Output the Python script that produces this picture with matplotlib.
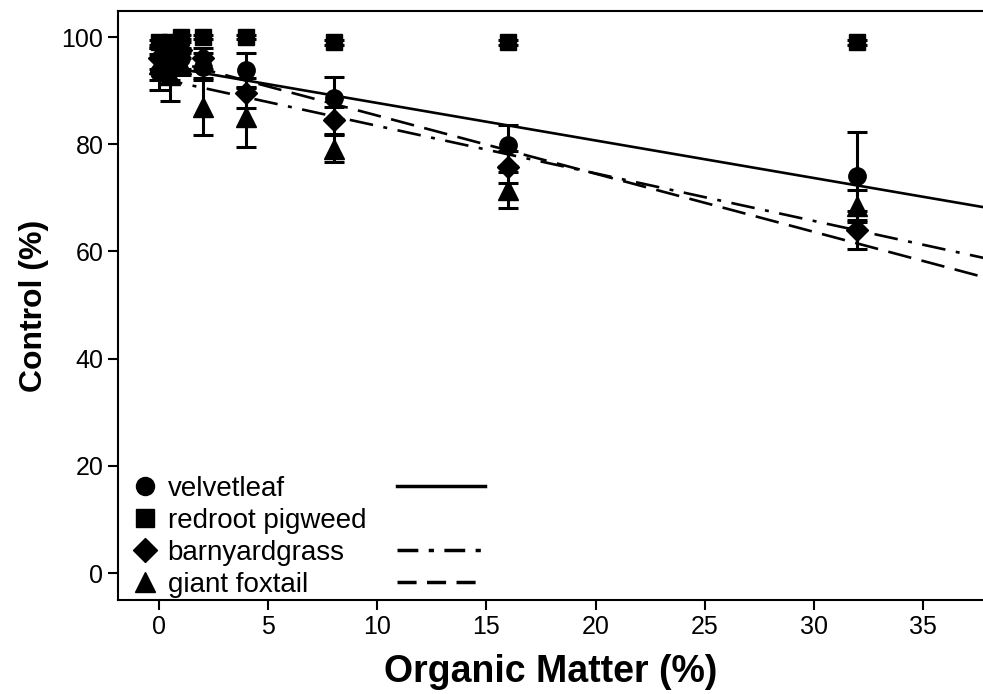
#Import Packages
import numpy as np
import matplotlib
matplotlib.use('Agg')
import matplotlib.pyplot as plt
from matplotlib.lines import Line2D

plt.rcParams['font.family'] = ['Liberation Sans', 'DejaVu Sans']

#Data
organic = [0, 0.5, 1, 2, 4, 8, 16, 32]
species = ['velvetleaf', 'redroot pigweed', 'barnyardgrass', 'giant foxtail']

velvetleaf = [93.5, 95, 96, 94.5, 93.8, 88.6, 79.8, 74]
velvetleaf_se = [3.4, 3, 2, 2.5, 3.2, 3.9, 3.8, 8.2]
pigweed = [99, 99, 100, 100, 100, 99, 99, 99]
pigweed_se = [0.5, 0.5, 0.3, 0.3, 0.3, 0.5, 0.5, 0.5]
barnyard = [96, 97, 97.5, 96, 89.5, 84.5, 75.7, 64]
barnyard_se = [2, 2, 1.5, 2, 2.8, 2.5, 3, 3.5]
foxtail = [95, 93, 95, 87, 85, 79.2, 71.5, 68.5]
foxtail_se = [3, 5, 2, 5.3, 5.5, 2.5, 3.4, 3]

#Regression lines (intercept, slope)
fit_velvetleaf = (94.7, -0.70)
fit_barnyard = (92.3, -0.887)
fit_foxtail = (96.2, -1.085)

#Plot
fig = plt.figure(figsize=(9.83, 6.94), dpi=100)
ax = fig.add_axes([0.120, 0.1354, 0.880, 0.8487])

xs = np.linspace(0, 38, 50)
ax.plot(xs, fit_velvetleaf[0] + fit_velvetleaf[1]*xs, color='k', lw=1.9, ls='-')
ax.plot(xs, fit_barnyard[0] + fit_barnyard[1]*xs, color='k', lw=1.9, ls=(0, (9, 4, 1.5, 4)))
ax.plot(xs, fit_foxtail[0] + fit_foxtail[1]*xs, color='k', lw=1.9, ls=(0, (9, 4)))

markers = ['o', 's', 'D', '^']
sizes = [12.5, 12, 11, 14]
series = [(velvetleaf, velvetleaf_se), (pigweed, pigweed_se),
          (barnyard, barnyard_se), (foxtail, foxtail_se)]
for (vals, se), m, s in zip(series, markers, sizes):
    ax.errorbar(organic, vals, yerr=se, fmt=m, ms=s, color='k', ecolor='k',
                elinewidth=2.2, capsize=7, capthick=2.2)

ax.set_xlim(-1.88, 37.75)
ax.set_ylim(-5.04, 104.85)
ax.set_xticks([0, 5, 10, 15, 20, 25, 30, 35])
ax.set_yticks([0, 20, 40, 60, 80, 100])
ax.tick_params(labelsize=18, length=7, width=1.5, direction='out')
ax.spines['right'].set_visible(False)
for sp in ['left', 'bottom', 'top']:
    ax.spines[sp].set_linewidth(1.5)

ax.set_xlabel('Organic Matter (%)', fontsize=27, fontweight='bold', labelpad=11)
ax.set_ylabel('Control (%)', fontsize=23, fontweight='bold', labelpad=9)

#Legend
mk_handles = [Line2D([], [], marker=m, ls='none', color='k', ms=s)
              for m, s in zip(markers, [13, 13, 12, 15])]
leg1 = ax.legend(mk_handles, species, loc='lower left', bbox_to_anchor=(0.014, 0.004),
                 frameon=False, fontsize=20, handlelength=1.05, handletextpad=0.3,
                 labelspacing=0.21, borderpad=0, borderaxespad=0)
ax.add_artist(leg1)
ln_handles = [Line2D([], [], color='k', lw=2.5, ls='-'),
              Line2D([], [], ls='none'),
              Line2D([], [], color='k', lw=2.5, ls=(0, (6, 3, 1.5, 3))),
              Line2D([], [], color='k', lw=2.5, ls=(0, (5.5, 3)))]
ax.legend(ln_handles, [' '] * 4, loc='lower left', bbox_to_anchor=(0.323, 0.004),
          frameon=False, fontsize=20, handlelength=3.15, handletextpad=0,
          labelspacing=0.21, borderpad=0, borderaxespad=0)

plt.savefig('out.png', dpi=100)
